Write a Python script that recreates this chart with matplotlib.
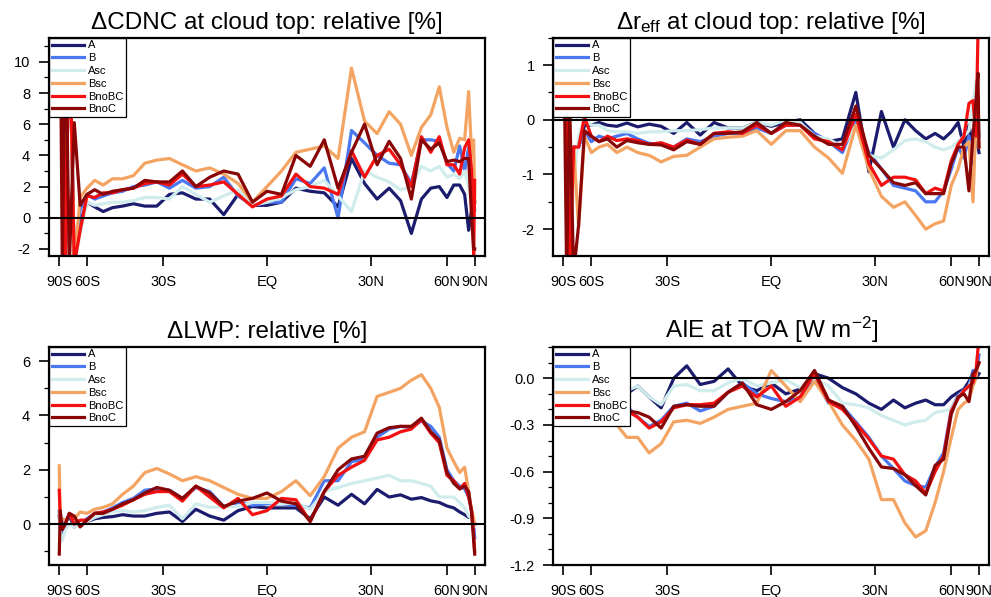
import numpy as np
import matplotlib
matplotlib.use('Agg')
import matplotlib.pyplot as plt
from matplotlib.ticker import AutoMinorLocator

plt.rcParams['font.family'] = 'Liberation Sans'
plt.rcParams['mathtext.fontset'] = 'custom'
plt.rcParams['mathtext.rm'] = 'Liberation Sans'
plt.rcParams['mathtext.it'] = 'Liberation Sans:italic'

nan = np.nan

# latitude grid (deg), -88 .. 88 every 4 deg
lat = np.arange(-88, 89, 4)

names = ['A', 'B', 'Asc', 'Bsc', 'BnoBC', 'BnoC']
colors = ['#1c1c6e', '#4a78f0', '#d0ecec', '#f4a462', '#f41010', '#8a0606']

# ---- Delta CDNC at cloud top [%] ----
cdnc_A = [nan, nan, 13, -3, 13, -3, -0.3,
          1.0, 0.7, 0.4, 0.65, 0.75, 0.9, 0.75, 0.75, 1.5, 1.6,
          1.2, 1.2, 0.2, 1.5, 0.8, 0.8, 1.0, 1.9, 1.7, 1.6,
          0.7, 3.8, 2.2, 1.2, 1.9, 1.1, -1.0, 1.2, 1.9, 2.0,
          1.3, 2.1, 2.1, 1.5, -0.8, 0.5, 1.0, 1.0]
cdnc_B = [nan, nan, 13, -3, 13, -3, 0.5,
          1.5, 1.2, 1.4, 1.6, 1.7, 2.0, 2.1, 2.3, 1.9, 2.4,
          1.9, 2.0, 2.6, 1.4, 0.8, 1.0, 1.0, 2.5, 2.2, 3.2,
          0.0, 5.6, 4.8, 4.0, 3.5, 3.4, 2.2, 5.0, 5.0, 4.9,
          3.5, 3.0, 4.6, 3.0, 4.5, 2.0, 1.0, 0.5]
cdnc_Asc = [nan, nan, 13, -3, 13, -3, -1.0,
            1.0, 0.8, 0.9, 1.0, 1.0, 1.1, 1.3, 1.3, 1.2, 2.0,
            1.5, 1.0, 1.4, 1.8, 0.8, 1.0, 1.3, 1.8, 2.0, 2.4,
            1.4, 0.4, 3.0, 2.6, 2.3, 1.8, 2.0, 3.3, 3.0, 3.3,
            2.6, 2.8, 2.5, 3.0, 2.0, 1.0, 0.5, 0.5]
cdnc_Bsc = [nan, nan, 13, -3, 13, -3, 1.3,
            1.9, 2.4, 2.1, 2.5, 2.5, 2.7, 3.5, 3.7, 3.8, 3.4,
            3.0, 3.2, 2.8, 2.2, 1.0, 2.0, 3.0, 4.2, 4.4, 4.6,
            3.8, 9.6, 6.2, 5.4, 6.8, 6.0, 4.0, 5.8, 6.6, 8.4,
            5.8, 4.2, 5.1, 5.0, 8.1, 4.0, 5.0, 1.0]
cdnc_BnoBC = [nan, nan, 13, -3, 13, -3, -0.8,
              1.4, 1.3, 1.6, 1.6, 1.8, 1.9, 2.2, 2.3, 2.1, 2.8,
              2.0, 2.1, 2.3, 1.5, 0.7, 1.2, 1.4, 2.8, 2.0, 1.9,
              1.5, 4.3, 2.6, 4.0, 4.4, 3.4, 2.0, 5.2, 4.2, 5.2,
              3.4, 3.4, 2.8, 4.5, 5.0, 3.0, -2.5, 2.4]
cdnc_BnoC = [nan, 13, -3, 13, -3, 6.1, 0.8,
             1.5, 1.8, 1.5, 1.7, 1.8, 1.9, 2.4, 2.3, 2.3, 3.0,
             2.0, 2.6, 3.0, 2.8, 1.0, 1.7, 1.5, 4.0, 3.3, 5.0,
             1.9, 4.2, 6.0, 3.4, 4.9, 3.8, 1.2, 5.0, 4.4, 4.8,
             3.6, 3.7, 3.6, 3.8, 3.8, 0.0, -2.0, -2.0]

# ---- Delta r_eff at cloud top [%] ----
reff_A = [nan, nan, 0.3, -2.8, -0.5, -0.5, -0.1,
          -0.1, -0.05, -0.1, -0.12, -0.06, -0.13, -0.08, -0.12, -0.25, -0.05,
          -0.28, -0.05, -0.15, -0.15, -0.05, -0.12, -0.05, 0.0, -0.25, -0.4,
          -0.35, 0.5, -0.95, 0.15, -0.5, 0.0, -0.2, -0.35, -0.25, -0.35,
          -0.22, -0.05, -0.5, -0.1, -0.5, 0.3, -0.5, -0.6]
reff_B = [nan, nan, 0.3, -2.8, -0.5, -0.5, -0.2,
          -0.4, -0.3, -0.35, -0.3, -0.25, -0.35, -0.43, -0.45, -0.5, -0.35,
          -0.4, -0.3, -0.25, -0.25, -0.15, -0.25, -0.1, -0.1, -0.25, -0.4,
          -0.6, 0.0, -0.6, -0.9, -1.2, -1.25, -1.3, -1.5, -1.5, -1.3,
          -0.9, -0.5, -0.7, -0.3, -0.8, 0.3, 0.2, -0.3]
reff_Asc = [nan, nan, 0.3, -2.8, -1.13, -0.3, 0.0,
            -0.1, -0.1, -0.2, -0.22, -0.22, -0.25, -0.22, -0.22, -0.2, -0.2,
            -0.18, -0.15, -0.15, -0.15, -0.05, -0.1, 0.0, -0.05, -0.3, -0.35,
            -0.5, -0.1, -0.65, -0.7, -0.55, -0.38, -0.35, -0.4, -0.5, -0.55,
            -0.5, -0.4, -0.3, -0.2, 0.3, 0.72, 0.0, -0.2]
reff_Bsc = [nan, nan, 0.3, -2.8, -0.5, -1.96, -0.3,
            -0.6, -0.5, -0.45, -0.6, -0.5, -0.6, -0.65, -0.77, -0.67, -0.65,
            -0.5, -0.35, -0.32, -0.3, -0.2, -0.45, -0.2, -0.2, -0.5, -0.7,
            -0.98, -0.1, -0.9, -1.4, -1.6, -1.5, -1.75, -2.0, -1.9, -1.85,
            -1.2, -0.9, -0.5, -0.4, -1.5, 0.0, -0.3, -0.5]
reff_BnoBC = [nan, nan, 0.3, -2.8, -0.5, -0.5, 0.05,
              -0.3, -0.4, -0.3, -0.38, -0.35, -0.38, -0.45, -0.42, -0.5, -0.37,
              -0.45, -0.25, -0.22, -0.25, -0.1, -0.25, -0.1, -0.1, -0.35, -0.4,
              -0.55, 0.1, -0.8, -1.2, -1.05, -1.05, -1.1, -1.35, -1.25, -1.3,
              -0.75, -0.45, -0.3, 0.3, 0.35, -0.3, 1.6, 1.6]
reff_BnoC = [nan, 0.3, -2.8, 0.3, -2.8, -1.93, -0.2,
             -0.3, -0.4, -0.35, -0.5, -0.38, -0.42, -0.45, -0.46, -0.55, -0.4,
             -0.45, -0.25, -0.25, -0.22, -0.05, -0.25, -0.05, -0.1, -0.3, -0.45,
             -0.45, 0.25, -0.65, -0.9, -1.15, -1.2, -1.15, -1.35, -1.35, -1.35,
             -0.8, -0.5, -0.5, -1.3, -0.3, 0.35, 0.85, -0.5]

# ---- Delta LWP [%] ----
lwp_A = [0.3, -0.2, -0.5, 0.1, 0.3, -0.1, 0.1,
         0.1, 0.2, 0.25, 0.28, 0.35, 0.3, 0.3, 0.4, 0.45, 0.1,
         0.55, 0.3, 0.15, 0.5, 0.65, 0.6, 0.6, 0.6, 0.2, 1.0,
         0.7, 1.1, 0.75, 1.28, 1.0, 1.08, 0.92, 0.98, 0.86, 0.8,
         0.67, 0.6, 0.45, 0.35, 0.25, 0.3, 0.1, 0.0]
lwp_B = [0.5, -0.1, -0.3, 0.1, 0.35, 0.0, 0.0,
         0.2, 0.4, 0.45, 0.6, 0.8, 0.95, 1.25, 1.3, 1.25, 0.95,
         1.35, 1.2, 0.65, 0.8, 0.7, 0.75, 0.75, 0.7, 0.6, 1.6,
         1.6, 2.3, 2.4, 3.2, 3.5, 3.6, 3.55, 3.8, 3.6, 3.2,
         2.0, 1.6, 1.4, 1.3, 1.0, 0.5, 0.0, -0.5]
lwp_Asc = [0.5, -0.3, -0.6, -0.2, 0.0, -0.1, 0.05,
           0.1, 0.25, 0.35, 0.45, 0.5, 0.45, 0.5, 0.62, 0.7, 0.2,
           0.75, 0.62, 0.65, 0.65, 0.8, 0.8, 0.75, 0.78, 0.55, 1.2,
           1.35, 1.5, 1.6, 1.7, 1.8, 1.6, 1.6, 1.5, 1.4, 1.0,
           1.0, 1.0, 0.8, 0.6, 0.3, 0.2, 0.0, -0.1]
lwp_Bsc = [2.15, 0.0, 0.2, 0.15, 0.3, 0.2, 0.45,
           0.4, 0.55, 0.62, 0.75, 1.1, 1.4, 1.9, 2.05, 1.85, 1.6,
           1.75, 1.6, 1.35, 1.1, 0.95, 0.95, 1.2, 1.6, 1.05, 1.75,
           2.8, 3.2, 3.4, 4.7, 4.85, 5.0, 5.3, 5.5, 5.0, 4.3,
           2.8, 2.3, 1.9, 2.1, 1.2, 0.5, 0.2, 0.0]
lwp_BnoBC = [1.25, 0.2, -0.1, 0.0, 0.4, 0.0, 0.15,
             0.15, 0.4, 0.45, 0.55, 0.7, 0.9, 1.1, 1.2, 1.2, 0.85,
             1.4, 1.0, 0.6, 0.95, 0.35, 0.5, 0.95, 0.9, 0.1, 1.2,
             1.8, 2.1, 2.35, 3.1, 3.2, 3.4, 3.5, 3.85, 3.35, 3.0,
             1.8, 1.6, 1.3, 1.5, 1.0, 0.5, -0.4, -1.0]
lwp_BnoC = [-1.1, 0.5, -0.2, 0.0, 0.4, 0.3, -0.1,
            0.15, 0.4, 0.4, 0.55, 0.75, 0.9, 1.15, 1.35, 1.25, 0.95,
            1.4, 1.15, 0.65, 0.85, 0.95, 1.15, 0.85, 0.75, 0.1, 1.2,
            2.0, 2.4, 2.5, 3.35, 3.55, 3.6, 3.6, 3.9, 3.4, 3.1,
            1.9, 1.5, 1.3, 1.4, 1.2, 0.4, -0.6, -1.1]

# ---- AIE at TOA [W m-2] ----
aie_A = [-0.05, -0.1, -0.05, -0.1, -0.08, -0.1, -0.1,
         -0.12, -0.08, -0.05, -0.1, -0.1, -0.05, -0.12, -0.19, 0.0, 0.08,
         -0.04, -0.02, 0.06, -0.05, -0.08, -0.03, -0.1, -0.07, 0.03, 0.0,
         -0.06, -0.1, -0.16, -0.2, -0.14, -0.19, -0.16, -0.14, -0.17, -0.17,
         -0.12, -0.09, -0.07, -0.02, 0.03, 0.0, 0.02, 0.03]
aie_B = [-0.1, -0.15, -0.12, -0.18, -0.15, -0.2, -0.2,
         -0.22, -0.2, -0.2, -0.2, -0.18, -0.25, -0.31, -0.27, -0.18, -0.16,
         -0.21, -0.18, -0.09, -0.03, -0.1, -0.13, -0.15, -0.12, 0.0, -0.16,
         -0.18, -0.28, -0.38, -0.5, -0.58, -0.66, -0.69, -0.7, -0.57, -0.48,
         -0.2, -0.11, -0.08, -0.05, 0.05, 0.05, 0.1, 0.15]
aie_Asc = [-0.05, -0.08, -0.05, -0.1, -0.08, -0.1, -0.12,
           -0.1, -0.1, -0.08, -0.1, -0.08, -0.05, -0.12, -0.17, -0.05, -0.04,
           -0.08, -0.08, -0.03, 0.0, -0.05, -0.03, -0.01, -0.06, 0.0, -0.05,
           -0.16, -0.17, -0.19, -0.24, -0.27, -0.3, -0.28, -0.27, -0.22, -0.21,
           -0.2, -0.12, -0.08, -0.05, 0.0, 0.04, 0.08, 0.1]
aie_Bsc = [-0.1, -0.15, -0.2, -0.2, -0.22, -0.25, -0.25,
           -0.28, -0.3, -0.3, -0.3, -0.38, -0.38, -0.48, -0.42, -0.28, -0.27,
           -0.29, -0.25, -0.2, -0.18, -0.16, 0.05, -0.05, -0.15, -0.02, -0.15,
           -0.3, -0.4, -0.52, -0.78, -0.78, -0.93, -1.02, -0.98, -0.8, -0.6,
           -0.38, -0.2, -0.16, -0.14, -0.05, 0.0, 0.1, 0.1]
aie_BnoBC = [-0.1, -0.15, -0.12, -0.18, -0.15, -0.2, -0.2,
             -0.22, -0.2, -0.2, -0.21, -0.21, -0.25, -0.32, -0.28, -0.19, -0.17,
             -0.17, -0.16, -0.09, -0.05, -0.12, -0.05, -0.18, -0.12, 0.03, -0.15,
             -0.2, -0.29, -0.39, -0.5, -0.52, -0.62, -0.66, -0.74, -0.6, -0.5,
             -0.21, -0.13, -0.08, -0.05, -0.03, 0.05, 0.19, 0.2]
aie_BnoC = [-0.1, -0.15, -0.12, -0.18, -0.15, -0.2, -0.2,
            -0.22, -0.2, -0.2, -0.2, -0.21, -0.22, -0.25, -0.32, -0.18, -0.17,
            -0.18, -0.18, -0.09, -0.03, -0.17, -0.2, -0.15, -0.08, 0.05, -0.14,
            -0.18, -0.31, -0.45, -0.57, -0.58, -0.62, -0.69, -0.75, -0.56, -0.52,
            -0.23, -0.12, -0.1, -0.15, 0.03, 0.05, 0.08, 0.1]

xtick_lat = [-90, -60, -30, 0, 30, 60, 90]
xtick_lab = ['90S', '60S', '30S', 'EQ', '30N', '60N', '90N']

panels = [
    ('\u0394CDNC at cloud top: relative [%]',
     [cdnc_A, cdnc_B, cdnc_Asc, cdnc_Bsc, cdnc_BnoBC, cdnc_BnoC],
     (-2.45, 11.55), [-2, 0, 2, 4, 6, 8, 10], '%d', 2),
    ('\u0394r$_{\\mathrm{eff}}$ at cloud top: relative [%]',
     [reff_A, reff_B, reff_Asc, reff_Bsc, reff_BnoBC, reff_BnoC],
     (-2.49, 1.5), [-2, -1, 0, 1], '%d', 2),
    ('\u0394LWP: relative [%]',
     [lwp_A, lwp_B, lwp_Asc, lwp_Bsc, lwp_BnoBC, lwp_BnoC],
     (-1.5, 6.53), [0, 2, 4, 6], '%d', 2),
    ('AIE at TOA [W m$^{\\mathrm{-2}}$]',
     [aie_A, aie_B, aie_Asc, aie_Bsc, aie_BnoBC, aie_BnoC],
     (-1.2, 0.203), [-1.2, -0.9, -0.6, -0.3, 0.0], '%.1f', 3),
]

boxes = [[0.0494, 0.5712, 0.440, 0.3657], [0.5583, 0.5712, 0.440, 0.3657],
         [0.0494, 0.0536, 0.440, 0.3657], [0.5583, 0.0536, 0.440, 0.3657]]

fig = plt.figure(figsize=(9.91, 5.97), dpi=100)
x = np.sin(np.deg2rad(lat))

for (title, series, ylim, yticks, fmt, nminor), box in zip(panels, boxes):
    ax = fig.add_axes(box)
    for vals, name, col in zip(series, names, colors):
        assert len(vals) == len(lat), (title, name, len(vals))
        ax.plot(x, vals, color=col, lw=2.3, label=name)
    ax.axhline(0, color='black', lw=1.5, zorder=5)
    ax.set_xlim(-1.049, 1.049)
    ax.set_ylim(*ylim)
    ax.set_xticks(np.sin(np.deg2rad(xtick_lat)))
    ax.set_xticklabels(xtick_lab)
    ax.set_yticks(yticks)
    ax.set_yticklabels([fmt % v for v in yticks])
    ax.yaxis.set_minor_locator(AutoMinorLocator(nminor))
    ax.tick_params(axis='both', which='major', direction='out', length=7.5,
                   width=1.2, labelsize=10.5, pad=6, top=False, right=False)
    ax.tick_params(axis='y', which='minor', direction='out', length=3.5, width=0.9)
    for sp in ax.spines.values():
        sp.set_linewidth(1.6)
        sp.set_zorder(12)
    ax.set_title(title, fontsize=17.5, pad=6)
    leg = ax.legend(loc='upper left', fontsize=8, handlelength=2.9,
                    handletextpad=0.35, labelspacing=0.25, borderpad=0.25,
                    borderaxespad=0, fancybox=False, edgecolor='black',
                    framealpha=1)
    leg.get_frame().set_linewidth(0.9)
    leg.set_zorder(10)

fig.savefig('out.png', dpi=100)
